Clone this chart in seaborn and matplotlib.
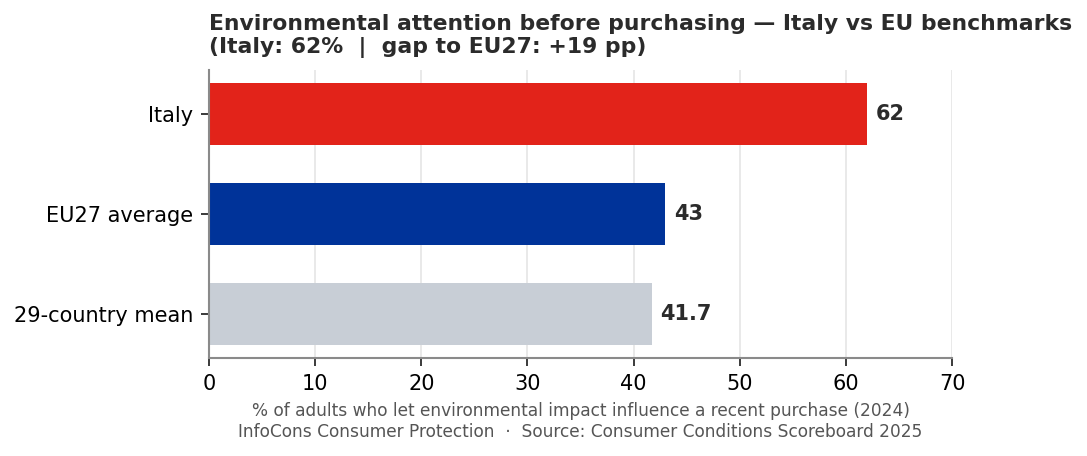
import matplotlib
matplotlib.use("Agg")
import matplotlib.pyplot as plt
import pandas as pd
import seaborn as sns

# Data
labels = ["Italy", "EU27 average", "29-country mean"]
values = [62, 43, 41.7]
value_text = ["62", "43", "41.7"]
colors = ["#E2231A", "#003399", "#C8CED6"]

df = pd.DataFrame({"group": labels, "share": values})

sns.set_theme(style="white")
plt.rcParams['font.family'] = ['DejaVu Sans']

fig = plt.figure(figsize=(7.247, 3.04), dpi=150)
ax = fig.add_axes([0.1923, 0.2149, 0.6835, 0.6316])

sns.barplot(data=df, y="group", x="share", hue="group", palette=colors,
            order=labels, hue_order=labels, width=0.62, legend=False,
            saturation=1, linewidth=0, ax=ax)

# value labels at bar ends
for i, (v, t) in enumerate(zip(values, value_text)):
    ax.text(v + 0.8, i, t, va="center", ha="left", fontsize=10,
            fontweight="bold", color="#2b2b2b")

ax.set_xlim(0, 70)
ax.set_ylim(2.441, -0.441)
ax.set_xticks(range(0, 71, 10))
ax.xaxis.grid(True, color="#e8e8e8", linewidth=0.9)
ax.set_axisbelow(True)

for s in ["top", "right"]:
    ax.spines[s].set_visible(False)
for s in ["left", "bottom"]:
    ax.spines[s].set_color("#8a8a8a")
    ax.spines[s].set_linewidth(1.0)

ax.tick_params(axis="both", which="both", length=4, width=0.9,
               color="#333333", labelsize=10, labelcolor="black")
ax.tick_params(axis="x", bottom=True)
ax.tick_params(axis="y", left=True)

ax.set_ylabel("")
ax.set_xlabel("% of adults who let environmental impact influence a recent purchase (2024)\n"
              "InfoCons Consumer Protection  \u00b7  Source: Consumer Conditions Scoreboard 2025",
              fontsize=8.15, color="#555555", labelpad=4)

ax.set_title("Environmental attention before purchasing \u2014 Italy vs EU benchmarks\n"
             "(Italy: 62%  |  gap to EU27: +19 pp)",
             loc="left", fontsize=10.5, fontweight="bold", color="#2b2b2b", pad=8)

fig.savefig("out.png", dpi=150)
